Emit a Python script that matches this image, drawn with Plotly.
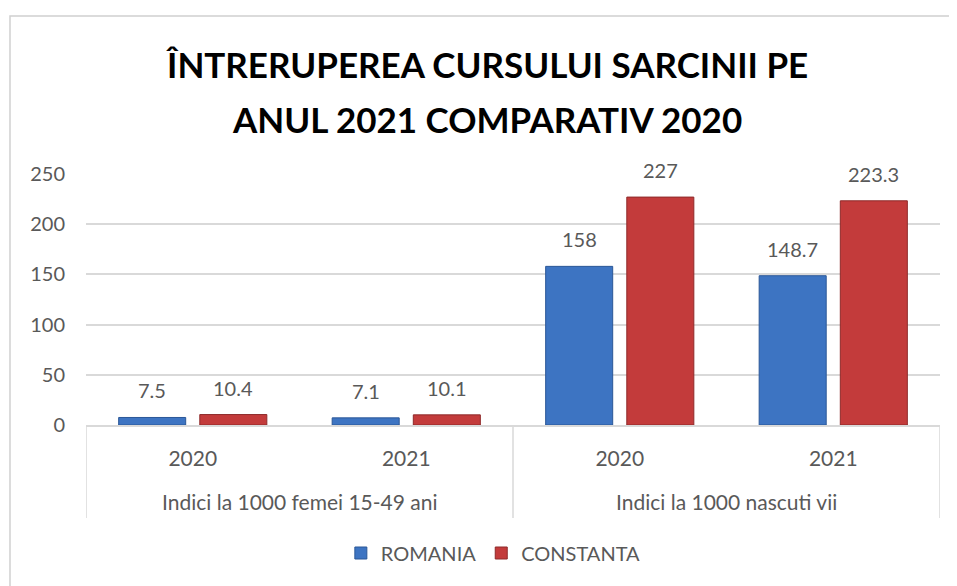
import plotly.graph_objects as go

# ---- data ----
groups = ["Indici la 1000 femei 15-49 ani", "Indici la 1000 nascuti vii"]
years = ["2020", "2021"]
romania = [7.5, 7.1, 158, 148.7]
constanta = [10.4, 10.1, 227, 223.3]
series_names = ["ROMANIA", "CONSTANTA"]
title_lines = ["ÎNTRERUPEREA CURSULUI SARCINII PE", "ANUL 2021 COMPARATIV 2020"]
y_ticks = [0, 50, 100, 150, 200, 250]

# ---- style ----
FONT = "Lato"
TXT = "#595959"
GRID = "#d9d9d9"
BAR_W = 0.314
OFFSETS = [-0.347, 0.033]
COLORS = ["#3d74c2", "#c33b3b"]
EDGES = ["#2b5797", "#8e2a2a"]

ticktext = [y for g in groups for y in years]
xpos = list(range(len(ticktext)))

fig = go.Figure()
annotations = []
for name, vals, off, col, edge in zip(series_names, [romania, constanta], OFFSETS, COLORS, EDGES):
    fig.add_trace(go.Bar(
        x=xpos, y=vals, name=name, width=BAR_W, offset=off,
        marker=dict(color=col, line=dict(color=edge, width=1)),
        hoverinfo="y",
    ))
    for xi, v in zip(xpos, vals):
        annotations.append(dict(
            x=xi + off + BAR_W / 2, y=v, xref="x", yref="y",
            text=f"{v:g}", showarrow=False, yanchor="middle", yshift=27,
            font=dict(family=FONT, size=20, color=TXT),
        ))

# group labels
n_per = len(years)
for gi, g in enumerate(groups):
    annotations.append(dict(
        x=gi * n_per + (n_per - 1) / 2, y=-0.303, xref="x", yref="paper",
        text=g, showarrow=False, yanchor="middle",
        font=dict(family=FONT, size=21, color=TXT),
    ))

# title lines
for yy, t in zip([1.438, 1.219], title_lines):
    annotations.append(dict(
        x=0.4696, y=yy, xref="paper", yref="paper", text=f"<b>{t}</b>",
        showarrow=False, yanchor="middle", xanchor="center",
        font=dict(family=FONT, size=35, color="#000000"),
    ))

shapes = []
# group separators
for sx in [-0.5 + gi * n_per for gi in range(len(groups) + 1)]:
    shapes.append(dict(type="line", xref="x", yref="paper", x0=sx, x1=sx, y0=0, y1=-0.3705,
                       line=dict(color=GRID, width=1.5)))
# outer chart border
shapes.append(dict(type="rect", xref="paper", yref="paper", x0=-0.089, x1=1.06, y0=-0.75, y1=1.6295,
                   line=dict(color="#d0d0d0", width=1.5), layer="below"))

fig.update_layout(
    width=957, height=586,
    margin=dict(l=78, r=25, t=166, b=169, autoexpand=False),
    paper_bgcolor="white", plot_bgcolor="white",
    barmode="overlay",
    showlegend=True,
    legend=dict(orientation="h", x=0.477, xanchor="center", y=-0.51, yanchor="middle",
                font=dict(family=FONT, size=20, color=TXT), bgcolor="rgba(0,0,0,0)"),
    annotations=annotations,
    shapes=shapes,
    font=dict(family=FONT, color=TXT),
)
fig.update_xaxes(
    range=[-0.5, len(xpos) - 0.5], tickvals=xpos, ticktext=ticktext,
    showgrid=False, zeroline=False, showline=True, linecolor=GRID, linewidth=1.5,
    ticks="", ticklabelstandoff=14, tickfont=dict(family=FONT, size=21, color=TXT),
    automargin=False, fixedrange=True,
)
fig.update_yaxes(
    range=[0, 250], tickvals=y_ticks, showgrid=True, gridcolor=GRID, gridwidth=1.5,
    zeroline=False, showline=False, ticks="", ticklabelstandoff=20,
    tickfont=dict(family=FONT, size=20, color=TXT), automargin=False, fixedrange=True,
)

fig.write_html("out.html")
